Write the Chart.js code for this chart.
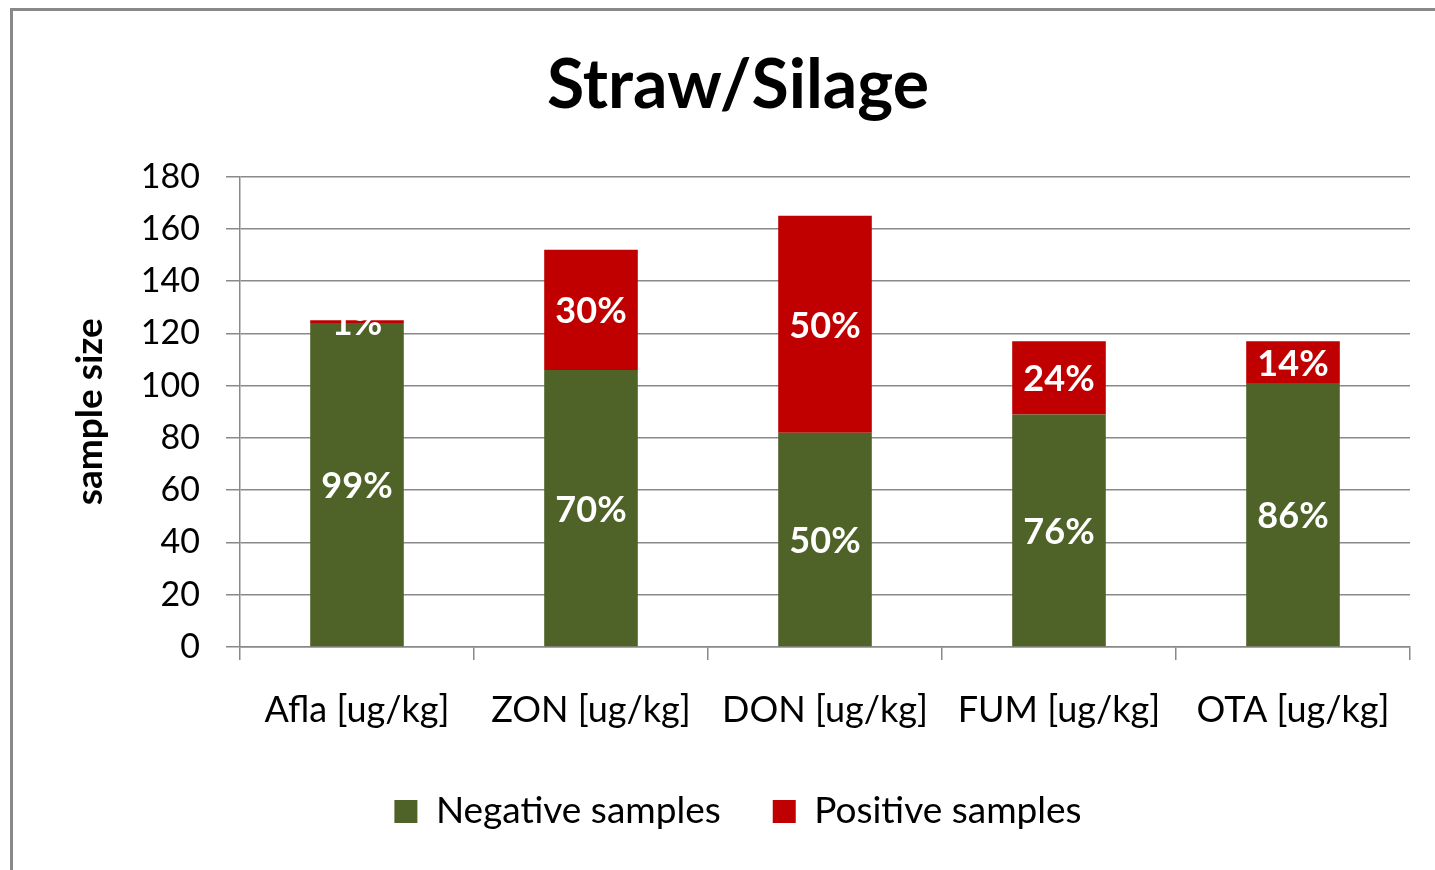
<!DOCTYPE html>
<html><head><meta charset="utf-8">
<script src="https://cdn.jsdelivr.net/npm/chart.js@4"></script>
<style>
html,body{margin:0;padding:0;background:#fff;overflow:hidden}
#wrap{position:relative;width:1435px;height:870px;overflow:hidden;background:#fff}
#frame{position:absolute;left:10px;top:8px;width:2000px;height:2000px;border:3px solid #898989;box-sizing:border-box}
canvas{position:absolute;left:0;top:0}
</style></head><body>
<div id="wrap"><div id="frame"></div><canvas id="c" width="1435" height="870"></canvas></div>
<script>
const categories = ['Afla [ug/kg]', 'ZON [ug/kg]', 'DON [ug/kg]', 'FUM [ug/kg]', 'OTA [ug/kg]'];
const negativeSamples = [124, 106, 82, 89, 101];
const positiveSamples = [1, 46, 83, 28, 16];
const negativeLabels = ['99%', '70%', '50%', '76%', '86%'];
const positiveLabels = ['1%', '30%', '50%', '24%', '14%'];
const yMin = 0, yMax = 180, yStep = 20;

const GRID = '#898989';
const FONT = 'Lato';

const barLabels = {
  id: 'barLabels',
  afterDatasetsDraw(chart) {
    const ctx = chart.ctx;
    const sets = [negativeLabels, positiveLabels];
    ctx.save();
    ctx.fillStyle = '#ffffff';
    ctx.font = 'bold 36px ' + FONT;
    ctx.textAlign = 'center';
    ctx.textBaseline = 'middle';
    chart.data.datasets.forEach((ds, i) => {
      const meta = chart.getDatasetMeta(i);
      meta.data.forEach((bar, j) => {
        const p = bar.getProps(['x', 'y', 'base'], true);
        ctx.fillText(sets[i][j], p.x, (p.y + p.base) / 2 + 2);
      });
    });
    ctx.restore();
  }
};

new Chart(document.getElementById('c'), {
  type: 'bar',
  data: {
    labels: categories,
    datasets: [
      { label: 'Negative samples', data: negativeSamples, backgroundColor: '#4F6228', borderWidth: 0 },
      { label: 'Positive samples', data: positiveSamples, backgroundColor: '#C00000', borderWidth: 0 }
    ]
  },
  options: {
    responsive: false,
    animation: false,
    devicePixelRatio: 1,
    categoryPercentage: 1,
    barPercentage: 0.4,
    layout: { padding: { left: 66, right: 25, top: 10, bottom: 30 } },
    plugins: {
      title: {
        display: true,
        text: 'Straw/Silage',
        color: '#000',
        font: { family: FONT, size: 68, weight: 'bold', lineHeight: 1.2 },
        padding: { top: 35, bottom: 50 }
      },
      legend: {
        display: true,
        position: 'bottom',
        labels: {
          color: '#000',
          font: { family: FONT, size: 37 },
          boxWidth: 23,
          boxHeight: 23,
          padding: 52
        }
      },
      tooltip: { enabled: false }
    },
    scales: {
      x: {
        stacked: true,
        grid: { display: true, drawOnChartArea: false, drawTicks: true, tickLength: 13, color: GRID, lineWidth: 1.5, offset: true },
        border: { display: true, color: GRID, width: 1.5 },
        ticks: { color: '#000', font: { family: FONT, size: 36 }, padding: 29, maxRotation: 0, autoSkip: false },
        afterFit(scale) { scale.height = 94; }
      },
      y: {
        stacked: true,
        min: yMin,
        max: yMax,
        grid: { color: GRID, lineWidth: 1.5, tickLength: 14 },
        border: { display: true, color: GRID, width: 1.5 },
        ticks: { stepSize: yStep, color: '#000', font: { family: FONT, size: 34 }, padding: 26 },
        title: {
          display: true,
          text: 'sample size',
          color: '#000',
          font: { family: FONT, size: 37, weight: 'bold', lineHeight: 1.2 },
          padding: { top: 2, bottom: 0 }
        },
        afterFit(scale) { scale.width = 174; }
      }
    }
  },
  plugins: [barLabels]
});
</script>
</body></html>
